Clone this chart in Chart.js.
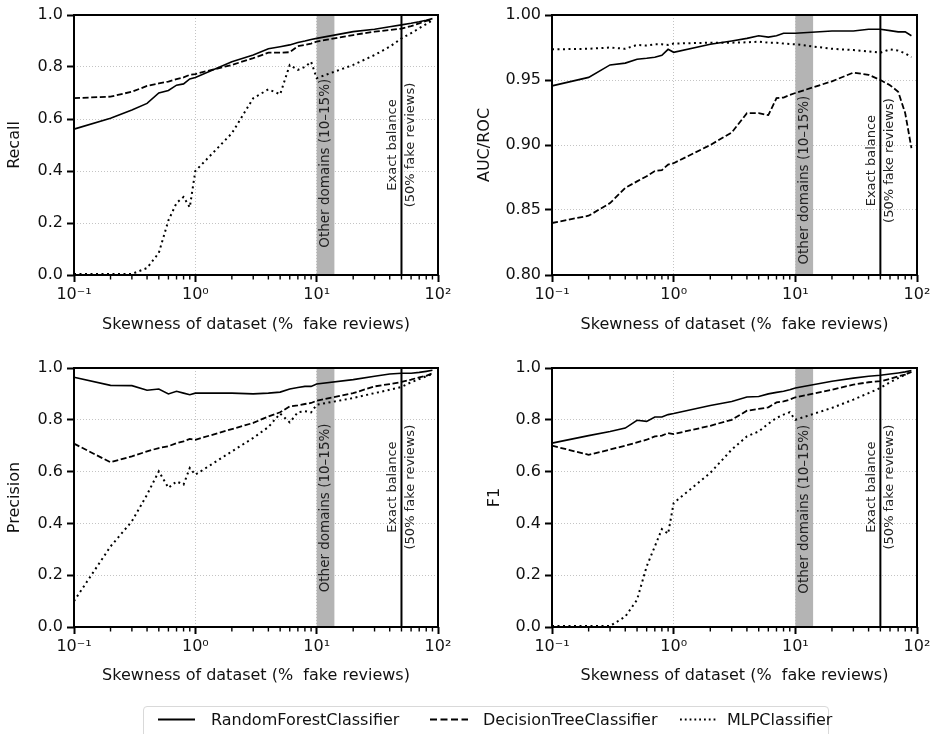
<!DOCTYPE html>
<html>
<head>
<meta charset="utf-8">
<script src="https://cdn.jsdelivr.net/npm/chart.js@4.4.1/dist/chart.umd.min.js"></script>
<style>
body { margin: 0; background: #fff; width: 937px; height: 734px; overflow: hidden; position: relative; font-family: "DejaVu Sans", sans-serif; }
canvas { position: absolute; }
#legend { position: absolute; left: 143px; top: 706px; width: 686px; height: 40px; border: 1px solid #d9d9d9; border-radius: 4px; box-sizing: border-box; }
.lab { position: absolute; top: 710px; font-size: 16px; color: #111; line-height: 20px; }
svg { position: absolute; }
</style>
</head>
<body>
<canvas id="recall" width="470" height="340" style="left:0;top:0"></canvas>
<canvas id="auc" width="467" height="340" style="left:470px;top:0"></canvas>
<canvas id="precision" width="470" height="351" style="left:0;top:340px"></canvas>
<canvas id="f1" width="467" height="351" style="left:470px;top:340px"></canvas>
<div id="legend"></div>
<svg width="937" height="734" style="left:0;top:0;pointer-events:none">
  <line x1="158" y1="719.5" x2="195" y2="719.5" stroke="#000" stroke-width="2.2"/>
  <line x1="430" y1="719.5" x2="468" y2="719.5" stroke="#000" stroke-width="2.2" stroke-dasharray="7,3.5"/>
  <line x1="680" y1="719.5" x2="716" y2="719.5" stroke="#000" stroke-width="1.8" stroke-dasharray="1.8,3"/>
</svg>
<span class="lab" style="left:211px">RandomForestClassifier</span>
<span class="lab" style="left:483px">DecisionTreeClassifier</span>
<span class="lab" style="left:727px">MLPClassifier</span>
<script>
// skewness values (% fake reviews)
const skew = [0.1, 0.2, 0.3, 0.4, 0.5, 0.6, 0.7, 0.8, 0.9, 1, 2, 3, 4, 5, 6, 7, 8, 9, 10, 20, 30, 40, 50, 60, 70, 80, 90];
const seriesNames = ['RandomForestClassifier', 'DecisionTreeClassifier', 'MLPClassifier'];
const xTicks = [0.1, 1, 10, 100];
const xTickLabels = ['10\u207B\u00B9', '10\u2070', '10\u00B9', '10\u00B2'];
const xTitle = 'Skewness of dataset (%  fake reviews)';

const recallRF = [0.561, 0.603, 0.635, 0.66, 0.70, 0.71, 0.73, 0.735, 0.754, 0.76, 0.82, 0.846, 0.87, 0.878, 0.885, 0.894, 0.90, 0.906, 0.91, 0.936, 0.945, 0.955, 0.962, 0.968, 0.974, 0.98, 0.986];
const recallDT = [0.68, 0.686, 0.705, 0.727, 0.737, 0.744, 0.753, 0.76, 0.77, 0.773, 0.808, 0.834, 0.855, 0.855, 0.857, 0.88, 0.885, 0.89, 0.898, 0.923, 0.936, 0.942, 0.948, 0.957, 0.968, 0.977, 0.983];
const recallMLP = [0.004, 0.004, 0.004, 0.027, 0.085, 0.21, 0.277, 0.30, 0.26, 0.40, 0.545, 0.68, 0.714, 0.695, 0.808, 0.789, 0.80, 0.82, 0.757, 0.808, 0.846, 0.878, 0.91, 0.93, 0.949, 0.965, 0.98];

const aucRF = [0.9455, 0.952, 0.9616, 0.963, 0.966, 0.9667, 0.9675, 0.969, 0.9736, 0.9713, 0.9775, 0.98, 0.982, 0.984, 0.983, 0.984, 0.986, 0.986, 0.986, 0.9877, 0.9877, 0.989, 0.989, 0.988, 0.987, 0.987, 0.984];
const aucDT = [0.84, 0.8456, 0.8553, 0.867, 0.872, 0.876, 0.88, 0.8806, 0.885, 0.886, 0.90, 0.9096, 0.9245, 0.9245, 0.923, 0.936, 0.9365, 0.9385, 0.94, 0.949, 0.9557, 0.954, 0.95, 0.946, 0.941, 0.9245, 0.8976];
const aucMLP = [0.9736, 0.974, 0.975, 0.974, 0.977, 0.9765, 0.9775, 0.9775, 0.977, 0.978, 0.9787, 0.9787, 0.979, 0.9795, 0.9787, 0.9787, 0.978, 0.9777, 0.9775, 0.974, 0.973, 0.972, 0.971, 0.9736, 0.9726, 0.9705, 0.9675];

const precRF = [0.964, 0.933, 0.932, 0.914, 0.919, 0.90, 0.91, 0.903, 0.897, 0.903, 0.903, 0.90, 0.903, 0.907, 0.919, 0.925, 0.929, 0.929, 0.938, 0.955, 0.968, 0.977, 0.98, 0.98, 0.983, 0.987, 0.991];
const precDT = [0.708, 0.636, 0.659, 0.678, 0.691, 0.698, 0.71, 0.717, 0.726, 0.723, 0.764, 0.788, 0.813, 0.829, 0.852, 0.856, 0.861, 0.865, 0.874, 0.903, 0.929, 0.938, 0.946, 0.955, 0.964, 0.97, 0.98];
const precMLP = [0.10, 0.311, 0.408, 0.511, 0.601, 0.537, 0.562, 0.55, 0.614, 0.588, 0.678, 0.73, 0.772, 0.824, 0.79, 0.829, 0.833, 0.829, 0.858, 0.884, 0.903, 0.916, 0.927, 0.945, 0.957, 0.968, 0.977];

const f1RF = [0.71, 0.739, 0.755, 0.768, 0.798, 0.794, 0.811, 0.811, 0.82, 0.824, 0.855, 0.871, 0.888, 0.89, 0.90, 0.906, 0.91, 0.916, 0.923, 0.949, 0.961, 0.968, 0.972, 0.977, 0.981, 0.985, 0.99];
const f1DT = [0.70, 0.665, 0.685, 0.70, 0.713, 0.723, 0.736, 0.739, 0.749, 0.745, 0.777, 0.80, 0.835, 0.842, 0.848, 0.867, 0.871, 0.878, 0.887, 0.916, 0.936, 0.945, 0.949, 0.958, 0.968, 0.974, 0.985];
const f1MLP = [0.004, 0.004, 0.004, 0.04, 0.105, 0.234, 0.311, 0.378, 0.36, 0.479, 0.595, 0.685, 0.736, 0.755, 0.785, 0.807, 0.82, 0.829, 0.80, 0.846, 0.878, 0.903, 0.923, 0.945, 0.961, 0.974, 0.987];

// shaded region and balance line
const otherDomains = [10, 14];
const balanceAt = 50;

const dashes = [[], [6, 2.6], [2, 3.5]];
const widths = [1.6, 1.8, 2];
const FONT = '"DejaVu Sans", sans-serif';

// minor ticks for the log axis
let minorTicks = [];
[0.1, 1, 10].forEach(d => { for (let k = 2; k <= 9; k++) minorTicks.push(d * k); });

const decor = {
    id: 'decor',
    beforeDatasetsDraw(chart) {
        const {ctx, chartArea: a, scales: {x}} = chart;
        let b0 = x.getPixelForValue(otherDomains[0]);
        let b1 = x.getPixelForValue(otherDomains[1]);
        ctx.save();
        ctx.fillStyle = '#b4b4b4';
        ctx.fillRect(b0, a.top, b1 - b0, a.bottom - a.top);
        // minor ticks
        ctx.strokeStyle = '#000';
        ctx.lineWidth = 1.4;
        ctx.beginPath();
        minorTicks.forEach(v => {
            let px = x.getPixelForValue(v);
            ctx.moveTo(px, a.bottom);
            ctx.lineTo(px, a.bottom + 4.5);
        });
        ctx.stroke();
        // frame
        ctx.lineWidth = 2;
        ctx.strokeRect(a.left, a.top, a.right - a.left, a.bottom - a.top);
        ctx.restore();
    },
    afterDatasetsDraw(chart, args, opts) {
        const {ctx, chartArea: a, scales: {x, y}} = chart;
        ctx.save();
        // balance line
        let bx = x.getPixelForValue(balanceAt);
        ctx.strokeStyle = '#000';
        ctx.lineWidth = 2;
        ctx.beginPath();
        ctx.moveTo(bx, a.top);
        ctx.lineTo(bx, a.bottom);
        ctx.stroke();
        // rotated notes
        ctx.fillStyle = '#222';
        ctx.textAlign = 'center';
        ctx.textBaseline = 'middle';
        let ox = x.getPixelForValue(Math.sqrt(otherDomains[0] * otherDomains[1]));
        ctx.save();
        ctx.font = '13.5px ' + FONT;
        ctx.translate(ox, y.getPixelForValue(opts.otherY));
        ctx.rotate(-Math.PI / 2);
        ctx.fillText('Other domains (10\u201315%)', 0, 0);
        ctx.restore();
        ctx.save();
        ctx.font = '13px ' + FONT;
        ctx.translate(bx, y.getPixelForValue(opts.balanceY));
        ctx.rotate(-Math.PI / 2);
        ctx.fillText('Exact balance', 0, -9);
        ctx.fillText('(50% fake reviews)', 0, 9);
        ctx.restore();
        ctx.restore();
    }
};

function buildPanel(id, label, series, yCfg, box) {
    let ctx = document.getElementById(id);
    let datasets = series.map((vals, i) => ({
        label: seriesNames[i],
        data: skew.map((s, j) => ({x: s, y: vals[j]})),
        borderColor: '#000',
        borderWidth: widths[i],
        borderDash: dashes[i],
        pointRadius: 0,
        fill: false,
        tension: 0,
        clip: 4
    }));
    return new Chart(ctx, {
        type: 'line',
        data: {datasets: datasets},
        options: {
            responsive: false,
            animation: false,
            devicePixelRatio: 1,
            layout: {padding: {top: box.top, right: box.right, left: 0, bottom: 0}},
            plugins: {
                legend: {display: false},
                tooltip: {enabled: false},
                decor: {otherY: yCfg.otherY, balanceY: yCfg.balanceY}
            },
            scales: {
                x: {
                    type: 'logarithmic',
                    min: 0.1,
                    max: 100,
                    afterBuildTicks: s => { s.ticks = xTicks.map(v => ({value: v, major: true})); },
                    afterFit: s => { s.height = box.xh; },
                    ticks: {
                        autoSkip: false,
                        maxRotation: 0,
                        padding: 3,
                        color: '#111',
                        font: {family: FONT, size: 16},
                        callback: (v, i) => xTickLabels[i]
                    },
                    grid: {color: '#c4c4c4', lineWidth: 1, tickLength: 7, tickColor: '#000', tickWidth: 2},
                    border: {display: false, dash: [1, 2]},
                    title: {display: true, text: xTitle, color: '#111', font: {family: FONT, size: 16}, padding: {top: 0, bottom: 5.4}}
                },
                y: {
                    min: yCfg.min,
                    max: yCfg.max,
                    afterFit: s => { s.width = box.yw; },
                    ticks: {
                        stepSize: yCfg.step,
                        padding: 4,
                        color: '#111',
                        font: {family: FONT, size: 16},
                        callback: v => v.toFixed(yCfg.dec)
                    },
                    grid: {color: '#c4c4c4', lineWidth: 1, tickLength: 7, tickColor: '#000', tickWidth: 2},
                    border: {display: false, dash: [1, 2]},
                    title: {display: true, text: label, color: '#111', font: {family: FONT, size: 16}, padding: {top: box.yt, bottom: 0}}
                }
            }
        },
        plugins: [decor]
    });
}

buildPanel('recall', 'Recall', [recallRF, recallDT, recallMLP],
    {min: 0, max: 1, step: 0.2, dec: 1, otherY: 0.43, balanceY: 0.5},
    {top: 15, right: 32, xh: 65, yw: 74, yt: 5.4});
buildPanel('auc', 'AUC/ROC', [aucRF, aucDT, aucMLP],
    {min: 0.8, max: 1.0, step: 0.05, dec: 2, otherY: 0.873, balanceY: 0.888},
    {top: 15, right: 20, xh: 65, yw: 82, yt: 5.4});
buildPanel('precision', 'Precision', [precRF, precDT, precMLP],
    {min: 0, max: 1, step: 0.2, dec: 1, otherY: 0.46, balanceY: 0.54},
    {top: 28, right: 32, xh: 64, yw: 74, yt: 5.4});
buildPanel('f1', 'F1', [f1RF, f1DT, f1MLP],
    {min: 0, max: 1, step: 0.2, dec: 1, otherY: 0.455, balanceY: 0.54},
    {top: 28, right: 20, xh: 64, yw: 82, yt: 15.4});
</script>
</body>
</html>
